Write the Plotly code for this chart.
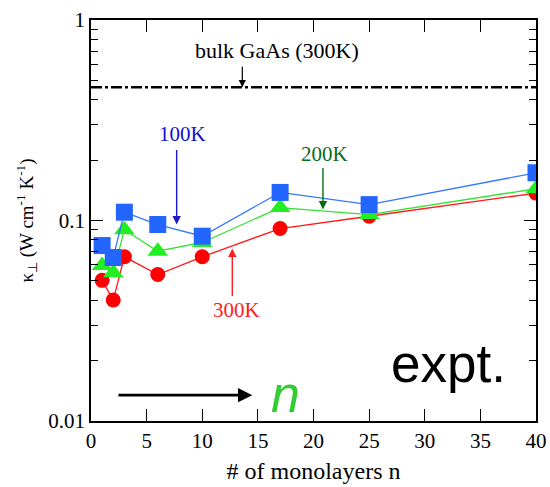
import plotly.graph_objects as go

# Monolayer counts and measured cross-plane thermal conductivity (W cm^-1 K^-1)
n_layers = [1, 2, 3, 6, 10, 17, 25, 40]
kappa_100K = [0.075, 0.0654, 0.110, 0.0955, 0.0835, 0.138, 0.120, 0.173]
kappa_200K = [0.0597, 0.0548, 0.090, 0.0703, 0.0777, 0.116, 0.107, 0.144]
kappa_300K = [0.0503, 0.0401, 0.0659, 0.0538, 0.0659, 0.0912, 0.105, 0.137]

# Bulk GaAs reference at 300 K
bulk_x = [0, 40]
bulk_kappa = [0.462, 0.462]

x_ticks = [0, 5, 10, 15, 20, 25, 30, 35, 40]
y_ticks = [0.01, 0.1, 1]
y_tick_labels = ["0.01", "0.1", "1"]
y_minor = [m * d for d in (0.01, 0.1) for m in range(2, 10)]

serif = "Liberation Serif, Times New Roman, Times, serif"
sans = "Liberation Sans, Arial, Helvetica, sans-serif"

fig = go.Figure()

fig.add_trace(go.Scatter(
    x=bulk_x, y=bulk_kappa, mode="lines",
    line=dict(color="black", width=2.6, dash="11px,3px,3px,3px"),
    showlegend=False, hoverinfo="skip"))

fig.add_trace(go.Scatter(
    x=n_layers, y=kappa_300K, mode="lines+markers", name="300K",
    line=dict(color="#ff1a1a", width=1.3),
    marker=dict(symbol="circle", size=15, color="#ff0000"),
    showlegend=False))
fig.add_trace(go.Scatter(
    x=n_layers, y=kappa_200K, mode="lines+markers", name="200K",
    line=dict(color="#33e033", width=1.3),
    marker=dict(symbol="triangle-up", size=18, color="#22ee22"),
    showlegend=False))
fig.add_trace(go.Scatter(
    x=n_layers, y=kappa_100K, mode="lines+markers", name="100K",
    line=dict(color="#3377ff", width=1.3),
    marker=dict(symbol="square", size=17, color="#2266ff"),
    showlegend=False))

annotations = [
    # bulk label and arrow
    dict(x=16.7, y=-0.152, text="bulk GaAs (300K)", showarrow=False,
         font=dict(family=serif, size=22, color="black")),
    dict(x=13.6, y=-0.335, ax=0, ay=-22, text="", showarrow=True,
         arrowhead=2, arrowsize=1.2, arrowwidth=1.2, arrowcolor="black"),
    # 100K
    dict(x=8.25, y=-0.571, text="100K", showarrow=False,
         font=dict(family=serif, size=21, color="#1010d0")),
    dict(x=7.7, y=-1.02, ax=0, ay=-76, text="", showarrow=True,
         arrowhead=2, arrowsize=1.2, arrowwidth=1.4, arrowcolor="#1a1acc"),
    # 200K
    dict(x=21.0, y=-0.669, text="200K", showarrow=False,
         font=dict(family=serif, size=21, color="#0a6a1a")),
    dict(x=20.85, y=-0.945, ax=0, ay=-43, text="", showarrow=True,
         arrowhead=2, arrowsize=1.2, arrowwidth=1.4, arrowcolor="#0a6a1a"),
    # 300K
    dict(x=13.1, y=-1.444, text="300K", showarrow=False,
         font=dict(family=serif, size=21, color="#ff2020")),
    dict(x=12.7, y=-1.14, ax=0, ay=49, text="", showarrow=True,
         arrowhead=2, arrowsize=1.2, arrowwidth=1.4, arrowcolor="#ff2020"),
    # expt. tag
    dict(x=32.1, y=-1.715, text="expt.", showarrow=False,
         font=dict(family=sans, size=53, color="black")),
    # direction of increasing n
    dict(x=14.5, y=-1.871, ax=2.33, ay=-1.871, axref="x", ayref="y",
         text="", showarrow=True, arrowhead=2, arrowsize=1.1,
         arrowwidth=2.6, arrowcolor="black"),
    dict(x=17.45, y=-1.865, text="<i>n</i>", showarrow=False,
         font=dict(family=sans, size=52, color="#33cc33")),
]

fig.update_layout(
    width=550, height=487,
    margin=dict(l=91, r=14, t=20, b=66, autoexpand=False),
    paper_bgcolor="white", plot_bgcolor="white",
    annotations=annotations,
    xaxis=dict(
        range=[0, 40], tickvals=x_ticks, ticks="inside", ticklen=12,
        tickwidth=1.2, tickcolor="black", showline=True, linecolor="black",
        linewidth=1.5, mirror="ticks", showgrid=False, zeroline=False,
        automargin=False,
        tickfont=dict(family=serif, size=21, color="black"),
        title=dict(text="# of monolayers n",
                   font=dict(family=serif, size=24, color="black"),
                   standoff=10),
    ),
    yaxis=dict(
        type="log", range=[-2, 0], tickvals=y_ticks, ticktext=y_tick_labels,
        ticks="inside", ticklen=12, tickwidth=1.2, tickcolor="black",
        minor=dict(tickvals=y_minor, ticks="inside", ticklen=7,
                   tickwidth=1.2, tickcolor="black", showgrid=False),
        showline=True, linecolor="black", linewidth=1.5, mirror="ticks",
        showgrid=False, zeroline=False, automargin=False,
        tickfont=dict(family=serif, size=21, color="black"),
        title=dict(text="κ<sub>⊥</sub> (W cm<sup>-1</sup> K<sup>-1</sup>)",
                   font=dict(family=serif, size=19, color="black"),
                   standoff=10),
    ),
)

fig.write_html("out.html")
